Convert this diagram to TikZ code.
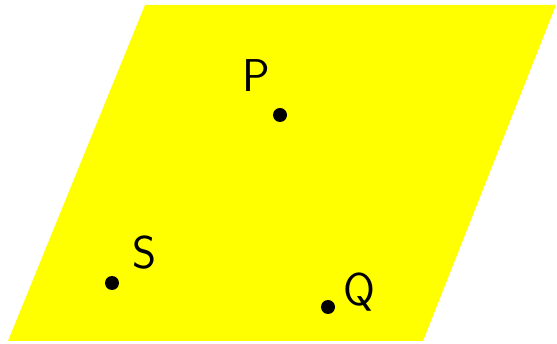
\documentclass[tikz,border=0pt]{standalone}
\usepackage{fontspec}
\definecolor{plane}{RGB}{255,255,0}
\begin{document}
\begin{tikzpicture}[x=1pt,y=-1pt,
  dot/.style={circle,fill=black,inner sep=0pt,minimum size=14pt},
  lbl/.style={font=\sffamily\fontsize{46}{46}\selectfont,inner sep=0pt}]
\useasboundingbox (0,0) rectangle (557,344);
\fill[plane] (145,5) -- (556,5) -- (423,341) -- (8,341) -- cycle;
\node[dot] (p) at (280,115) {};
\node[dot] (s) at (112,283) {};
\node[dot] (q) at (328,307) {};
\node[lbl] (pl) at (256,76) {P};
\node[lbl] (sl) at (145,253) {S};
\node[lbl] (ql) at (359,292) {Q};
\end{tikzpicture}
\end{document}
